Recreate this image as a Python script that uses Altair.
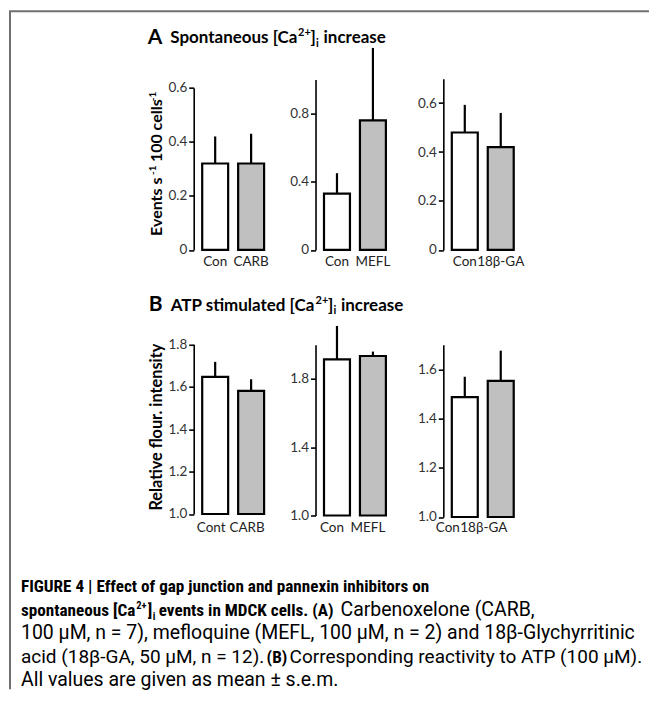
import altair as alt
import pandas as pd

# ---------------- data ----------------
TREATMENT = ["control", "inhibitor"]

A_GROUPS = [["Con", "CARB"], ["Con", "MEFL"], ["Con", "18β-GA"]]
A_MEANS = [[0.32, 0.32], [0.33, 0.76], [0.48, 0.42]]
A_SEMS = [[0.10, 0.11], [0.12, 0.425], [0.113, 0.14]]
A_TICKS = [[0, 0.2, 0.4, 0.6],
           [0, 0.2, 0.4, 0.6, 0.8, 1.0],
           [0, 0.1, 0.2, 0.3, 0.4, 0.5, 0.6, 0.7]]

B_GROUPS = [["Cont", "CARB"], ["Con", "MEFL"], ["Con", "18β-GA"]]
B_MEANS = [[1.646, 1.58], [1.914, 1.934], [1.487, 1.553]]
B_SEMS = [[0.071, 0.055], [0.196, 0.026], [0.083, 0.123]]
B_TICKS = [[1.0, 1.2, 1.4, 1.6, 1.8],
           [1.0, 1.2, 1.4, 1.6, 1.8, 2.0],
           [1.0, 1.1, 1.2, 1.3, 1.4, 1.5, 1.6, 1.7]]

TITLE_A = ["A", "Spontaneous [Ca", "2+", "]", "i", "increase"]
TITLE_B = ["B", "ATP stimulated [Ca", "2+", "]", "i", "increase"]
YTITLE_A = ["Events  s", "-1", "100 cells", "-1"]
YTITLE_B = "Relative flour. intensity"
CAPTION = [
    "FIGURE 4 | Effect of gap junction and pannexin inhibitors on",
    "spontaneous [Ca", "2+", "]", "i", "events in MDCK cells. (A)", "Carbenoxelone (CARB,",
    "100 μM, n = 7), mefloquine (MEFL, 100 μM, n = 2) and 18β-Glychyrritinic",
    "acid (18β-GA, 50 μM, n = 12).", "(B)", "Corresponding reactivity to ATP (100 μM).",
    "All values are given as mean ± s.e.m.",
]

LABEL_FONT = "Lato"
CAP_BOLD = "Roboto Condensed, Roboto"
CAP_FONT = "Roboto"
FRAME_COLOR = "#707070"

# origin of first panel plot area in page coordinates
OX, OY = 193, 77.5


def txt(s, px, py, size, weight="normal", font=LABEL_FONT, angle=0, align="left",
        style="normal", color="black"):
    d = pd.DataFrame({"t": [s]})
    return alt.Chart(d).mark_text(
        font=font, fontSize=size, fontWeight=weight, fontStyle=style, angle=angle,
        align=align, baseline="alphabetic", color=color,
    ).encode(x=alt.value(px - OX), y=alt.value(py - OY), text="t:N")


def panel(groups, means, sems, ticks, rng, zero_label, width=79, lab_off=0,
          pad_outer=0.236, band_align=0.5, extra=()):
    df = pd.DataFrame({"group": groups, "mean": means, "sem": sems,
                       "treatment": TREATMENT})
    xenc = alt.X("group:N", sort=groups, title=None,
                 scale=alt.Scale(paddingInner=0.278, paddingOuter=pad_outer,
                                 align=band_align),
                 axis=alt.Axis(domain=False, ticks=False, labelAngle=0,
                               labelPadding=4, labelOffset=lab_off,
                               labelFontSize=13.5, labelColor="#222",
                               labelFont=LABEL_FONT))
    expr = ("datum.value == 0 ? '0' : format(datum.value, '.1f')" if zero_label
            else "format(datum.value, '.1f')")
    ysc = alt.Scale(domain=[ticks[0], ticks[-1]], range=rng, nice=False, zero=False)
    yax = alt.Axis(values=ticks, labelExpr=expr, title=None, grid=False,
                   domainColor="black", domainWidth=1.6, tickColor="black",
                   tickWidth=1.6, tickSize=5, labelFontSize=13.5,
                   labelColor="#333", labelPadding=2, labelFont=LABEL_FONT)
    bars = alt.Chart(df).mark_bar(stroke="black", strokeWidth=2.2).encode(
        x=xenc,
        y=alt.Y("mean:Q", scale=ysc, axis=yax, title=None),
        y2=alt.datum(ticks[0]),
        fill=alt.Fill("treatment:N",
                      scale=alt.Scale(domain=TREATMENT, range=["white", "#c0c0c0"]),
                      legend=None),
    )
    err = alt.Chart(df).transform_calculate(upper="datum.mean + datum.sem").mark_rule(
        color="black", strokeWidth=2.2
    ).encode(
        x=alt.X("group:N", sort=groups, title=None),
        y=alt.Y("mean:Q", title=None),
        y2="upper:Q",
    )
    return alt.layer(bars, err, *extra).properties(width=width, height=172)


# ---------------- annotations (titles, axis titles, caption, frame) ----------------
frame_v = alt.Chart(pd.DataFrame({"k": [0]})).mark_rule(color=FRAME_COLOR, strokeWidth=2).encode(
    x=alt.value(9 - OX), y=alt.value(10 - OY), y2=alt.value(689 - OY))
frame_h = alt.Chart(pd.DataFrame({"k": [0]})).mark_rule(color=FRAME_COLOR, strokeWidth=2).encode(
    x=alt.value(8 - OX), x2=alt.value(649 - OX), y=alt.value(10 - OY))

ann = [frame_v, frame_h]
# title A
ann += [
    txt(TITLE_A[0], 147, 43, 21, "bold"),
    txt(TITLE_A[1], 169.5, 42, 17, "bold"),
    txt(TITLE_A[2], 297.5, 35, 11, "bold"),
    txt(TITLE_A[3], 310, 42, 17, "bold"),
    txt(TITLE_A[4], 315.5, 45.5, 11, "bold"),
    txt(TITLE_A[5], 323, 42, 17, "bold"),
]
# title B
ann += [
    txt(TITLE_B[0], 148, 310.5, 21, "bold"),
    txt(TITLE_B[1], 170, 310, 17, "bold"),
    txt(TITLE_B[2], 315, 303, 11, "bold"),
    txt(TITLE_B[3], 327.5, 310, 17, "bold"),
    txt(TITLE_B[4], 333, 313.5, 11, "bold"),
    txt(TITLE_B[5], 340.5, 310, 17, "bold"),
]
# y axis titles
ann += [
    txt(YTITLE_A[0], 161.5, 235, 16, "bold", angle=270),
    txt(YTITLE_A[1], 155.5, 174, 10, "bold", angle=270),
    txt(YTITLE_A[2], 161.5, 161, 16, "bold", angle=270),
    txt(YTITLE_A[3], 155.5, 100, 10, "bold", angle=270),
    txt(YTITLE_B, 161.5, 426.5, 16.3, "bold", angle=270, align="center"),
]
# caption
L1, L2, L3, L4, L5 = 592, 615.5, 639, 662.5, 686
ann += [
    txt(CAPTION[0], 20, L1, 17.2, "bold", font=CAP_BOLD),
    txt(CAPTION[1], 20, L2, 17.2, "bold", font=CAP_BOLD),
    txt(CAPTION[2], 135.5, L2 - 7, 10.5, "bold", font=CAP_BOLD),
    txt(CAPTION[3], 147, L2, 17.2, "bold", font=CAP_BOLD),
    txt(CAPTION[4], 152, L2 + 4, 10.5, "bold", font=CAP_BOLD),
    txt(CAPTION[5], 158, L2, 17.2, "bold", font=CAP_BOLD),
    txt(CAPTION[6], 340, L2, 19.5, font=CAP_FONT),
    txt(CAPTION[7], 20, L3, 19.5, font=CAP_FONT),
    txt(CAPTION[8], 20, L4, 19, font=CAP_FONT),
    txt(CAPTION[9], 266, L4, 17.2, "bold", font=CAP_BOLD),
    txt(CAPTION[10], 289, L4, 19, font=CAP_FONT),
    txt(CAPTION[11], 20, L5, 19.5, font=CAP_FONT),
]

# ---------------- panels ----------------
a1 = panel(A_GROUPS[0], A_MEANS[0], A_SEMS[0], A_TICKS[0], [171.5, 9.2], True, extra=ann)
a2 = panel(A_GROUPS[1], A_MEANS[1], A_SEMS[1], A_TICKS[1], [171.5, 0.8], True,
           width=84.7, pad_outer=0.3155, band_align=0.374)
a3 = panel(A_GROUPS[2], A_MEANS[2], A_SEMS[2], A_TICKS[2], [171.5, 0], True)

b1 = panel(B_GROUPS[0], B_MEANS[0], B_SEMS[0], B_TICKS[0], [169.5, -0.5], False, lab_off=-4)
b2 = panel(B_GROUPS[1], B_MEANS[1], B_SEMS[1], B_TICKS[1], [171, 0], False, lab_off=-5,
           width=84.7, pad_outer=0.3155, band_align=0.374)
b3 = panel(B_GROUPS[2], B_MEANS[2], B_SEMS[2], B_TICKS[2], [172.5, 0], False, lab_off=-17)

chart = alt.concat(
    a1, a2, a3, b1, b2, b3,
    columns=3, bounds="flush", align="each",
    spacing={"row": 94.5, "column": 43},
).properties(
    padding={"left": 0, "top": 1.25, "right": 0, "bottom": 0},
    background="white",
).configure_view(stroke=None)

chart.save("out.html", embed_options={"renderer": "svg", "actions": False})
